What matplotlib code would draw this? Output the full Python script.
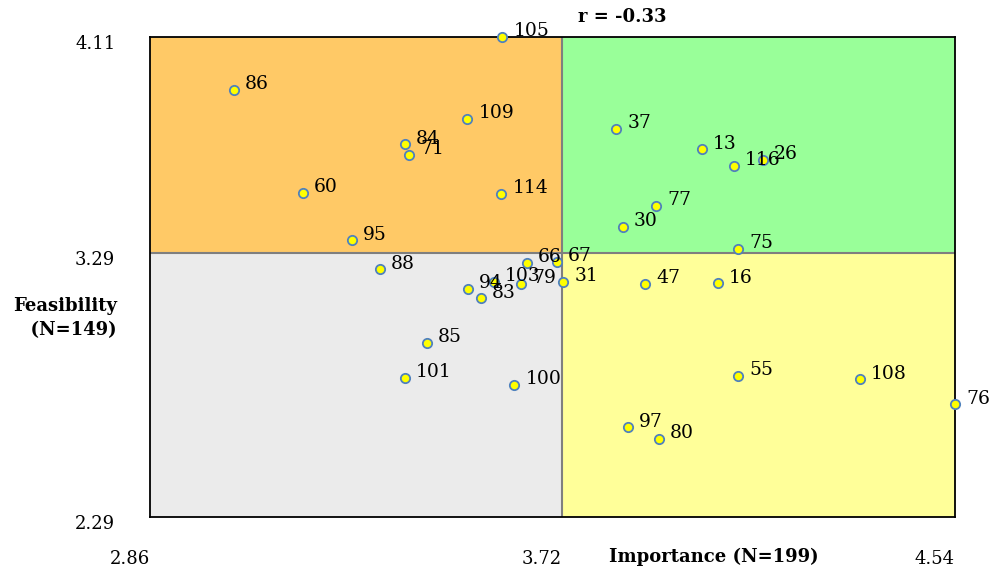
import numpy as np
from matplotlib import pyplot as plt
from matplotlib.transforms import ScaledTranslation

# item ids with their importance (x) and feasibility (y) means
ids = [105, 86, 109, 84, 71, 60, 114, 95, 88, 94, 103, 83, 79, 66, 67, 31,
       85, 101, 100, 37, 13, 116, 26, 77, 30, 75, 47, 16, 55, 108, 76, 97, 80]
importance = [3.595, 3.035, 3.522, 3.392, 3.401, 3.179, 3.593, 3.282, 3.340,
              3.524, 3.578, 3.551, 3.634, 3.647, 3.709, 3.722, 3.438, 3.392,
              3.620, 3.833, 4.012, 4.079, 4.139, 3.916, 3.847, 4.087, 3.893,
              4.045, 4.087, 4.342, 4.540, 3.858, 3.922]
feasibility = [4.110, 3.909, 3.799, 3.704, 3.663, 3.519, 3.515, 3.340, 3.230,
               3.155, 3.181, 3.120, 3.174, 3.253, 3.257, 3.181, 2.950, 2.817,
               2.791, 3.761, 3.685, 3.621, 3.644, 3.469, 3.390, 3.306, 3.174,
               3.177, 2.825, 2.813, 2.718, 2.631, 2.586]

x_min, x_mid, x_max = 2.86, 3.72, 4.54
y_min, y_mid, y_max = 2.29, 3.29, 4.11
r_value = -0.33

plt.rcParams['font.family'] = ['DejaVu Serif']

fig = plt.figure(figsize=(9.93, 5.73), dpi=100)
ax = fig.add_axes([150 / 993, 56 / 573, 805 / 993, 480 / 573])

# quadrant backgrounds
ax.fill_between([x_min, x_mid], y_mid, y_max, color="#FFC966", lw=0, zorder=0)
ax.fill_between([x_mid, x_max], y_mid, y_max, color="#99FF99", lw=0, zorder=0)
ax.fill_between([x_min, x_mid], y_min, y_mid, color="#EBEBEB", lw=0, zorder=0)
ax.fill_between([x_mid, x_max], y_min, y_mid, color="#FFFF99", lw=0, zorder=0)
ax.axvline(x_mid, color="#7F7F7F", lw=1.5, zorder=1)
ax.axhline(y_mid, color="#7F7F7F", lw=1.5, zorder=1)

ax.scatter(importance, feasibility, s=45, c="#FFFF00", edgecolors="#4F81BD",
           linewidths=1.3, zorder=3, clip_on=False)
for i, x, y in zip(ids, importance, feasibility):
    ax.annotate(str(i), (x, y), xytext=(8, 4), textcoords="offset points",
                fontsize=13.5, va="center", ha="left", zorder=4,
                annotation_clip=False)

ax.set_xlim(x_min, x_max)
ax.set_ylim(y_min, y_max)
ax.set_xticks([x_min, x_mid, x_max])
ax.set_xticklabels([f"{v:.2f}" for v in [x_min, x_mid, x_max]], ha="right")
ax.set_yticks([y_min, y_mid, y_max])
ax.set_yticklabels([f"{v:.2f}" for v in [y_min, y_mid, y_max]])
ax.tick_params(length=0, labelsize=13)
ax.tick_params(axis="x", pad=24)
ax.tick_params(axis="y", pad=25)
# y labels sit a little below their value, as in the original
shift = ScaledTranslation(0, -3.5 / 72, fig.dpi_scale_trans)
for lbl in ax.get_yticklabels():
    lbl.set_transform(lbl.get_transform() + shift)
for side in ax.spines.values():
    side.set_color("black")
    side.set_linewidth(1.3)

fig.text(714 / 993, 1 - 557 / 573, "Importance (N=199)", fontsize=13,
         fontweight="bold", ha="center", va="center")
fig.text(117 / 993, 1 - 318 / 573, "Feasibility\n  (N=149)", fontsize=13,
         fontweight="bold", ha="right", va="center", linespacing=1.4)
fig.text(578 / 993, 1 - 17 / 573, f"r = {r_value:.2f}", fontsize=13,
         fontweight="bold", ha="left", va="center")

plt.savefig("out.png", dpi=100)
